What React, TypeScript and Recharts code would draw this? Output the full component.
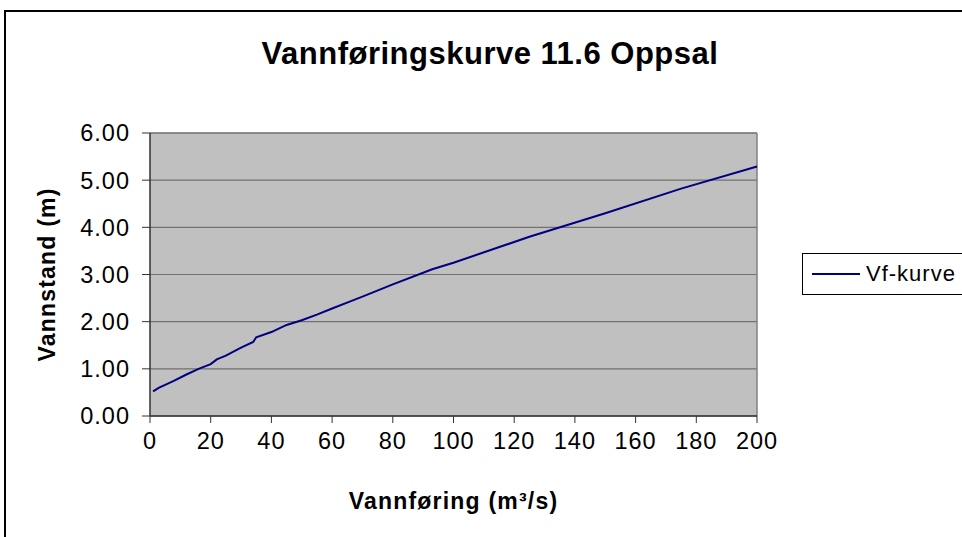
import { LineChart, Line, XAxis, YAxis, CartesianGrid, ReferenceLine } from 'recharts'

// vannføring (m3/s) and vannstand (m)
const flow = [1, 3, 5, 8, 12, 16, 20, 22, 25, 30, 34, 35, 40, 45, 50, 55, 60, 66, 70, 80, 93, 100, 125, 150, 175, 200]
const stage = [0.52, 0.6, 0.66, 0.75, 0.88, 1.0, 1.1, 1.2, 1.28, 1.45, 1.57, 1.67, 1.78, 1.93, 2.03, 2.15, 2.28, 2.43, 2.53, 2.79, 3.11, 3.25, 3.8, 4.3, 4.82, 5.29]

const xTicks = [0, 20, 40, 60, 80, 100, 120, 140, 160, 180, 200]
const yTicks = [0, 1, 2, 3, 4, 5, 6]

const seriesName = 'Vf-kurve'
const title = 'Vannføringskurve 11.6 Oppsal'

const data = flow.map((q, i) => ({ q, h: stage[i] }))

const font = '"Liberation Sans", Arial, sans-serif'

// legend is kept outside the chart so it doesn't eat plot space
function LegendBox() {
  return (
    <div
      style={{
        position: 'absolute',
        left: 802,
        top: 253,
        border: '1px solid #000',
        height: 42,
        width: 170,
        display: 'flex',
        alignItems: 'center',
        boxSizing: 'border-box',
        fontFamily: font,
        fontSize: 22,
        letterSpacing: 1,
        color: '#000',
      }}
    >
      <div style={{ width: 48, height: 2, background: '#000080', marginLeft: 9, marginRight: 6 }} />
      <span>{seriesName}</span>
    </div>
  )
}

export default function App() {
  return (
    <div style={{ position: 'absolute', left: 0, top: 0, width: 962, height: 537, overflow: 'hidden', background: '#fff' }}>
      <div
        style={{
          position: 'absolute',
          left: 4,
          top: 10,
          width: 1000,
          height: 600,
          borderLeft: '2px solid #000',
          borderTop: '2px solid #000',
        }}
      />
      <div
        style={{
          position: 'absolute',
          left: 0,
          width: 980,
          top: 36,
          textAlign: 'center',
          fontFamily: font,
          fontWeight: 'bold',
          fontSize: 31,
          letterSpacing: 0.5,
          color: '#000',
        }}
      >
        {title}
      </div>
      <LineChart
        width={962}
        height={537}
        data={data}
        margin={{ top: 133, right: 205, left: 70, bottom: 91 }}
        style={{ position: 'absolute', left: 0, top: 0 }}
      >
        <CartesianGrid vertical={false} fill="#C0C0C0" stroke="#707070" strokeWidth={1.2} />
        <ReferenceLine x={200} stroke="#808080" strokeWidth={1.5} />
        <ReferenceLine y={6} stroke="#808080" strokeWidth={1.5} />
        <XAxis
          type="number"
          dataKey="q"
          domain={[0, 200]}
          ticks={xTicks}
          interval={0}
          height={30}
          axisLine={{ stroke: '#333', strokeWidth: 1.5 }}
          tickLine={{ stroke: '#333' }}
          tickSize={7}
          tickMargin={9}
          tick={{ fill: '#000', fontSize: 23.5, fontFamily: font, letterSpacing: 1 }}
          label={{
            value: 'Vannføring (m³/s)',
            position: 'bottom',
            offset: 47,
            fill: '#000',
            fontSize: 23,
            fontWeight: 'bold',
            fontFamily: font,
            letterSpacing: 1.2,
          }}
        />
        <YAxis
          type="number"
          domain={[0, 6]}
          ticks={yTicks}
          interval={0}
          width={80}
          axisLine={{ stroke: '#333', strokeWidth: 1.5 }}
          tickLine={{ stroke: '#333' }}
          tickSize={8}
          tickMargin={12}
          tickFormatter={(v: number) => v.toFixed(2)}
          tick={{ fill: '#000', fontSize: 23.5, fontFamily: font, letterSpacing: 1 }}
          label={{
            value: 'Vannstand (m)',
            angle: -90,
            position: 'center',
            dx: -63,
            fill: '#000',
            fontSize: 23,
            fontWeight: 'bold',
            fontFamily: font,
            letterSpacing: 1.2,
          }}
        />
        <Line
          type="linear"
          dataKey="h"
          name={seriesName}
          stroke="#000080"
          strokeWidth={2}
          dot={false}
          isAnimationActive={false}
        />
      </LineChart>
      <LegendBox />
    </div>
  )
}
